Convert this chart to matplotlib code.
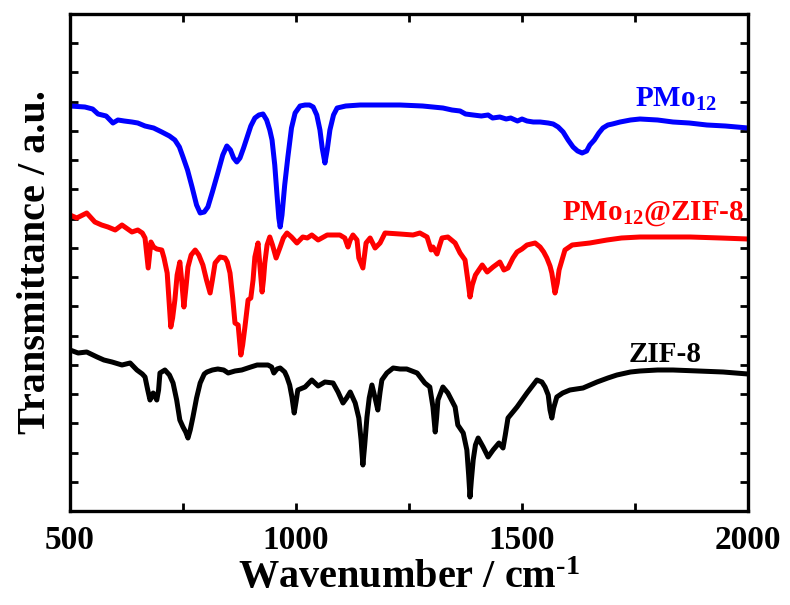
import matplotlib
matplotlib.use("Agg")
import matplotlib.pyplot as plt
import numpy as np

plt.rcParams['font.family'] = ['Liberation Serif', 'DejaVu Serif']
plt.rcParams['font.weight'] = 'bold'
plt.rcParams['mathtext.fontset'] = 'custom'
plt.rcParams['mathtext.rm'] = 'Liberation Serif:bold'
plt.rcParams['mathtext.bf'] = 'Liberation Serif:bold'
plt.rcParams['mathtext.it'] = 'Liberation Serif:bold'
plt.rcParams['mathtext.default'] = 'bf'

# Transmittance in arbitrary units (offset spectra)
pmo_wn = [500, 533, 550, 562, 580, 595, 606, 620, 637, 650, 666, 685, 703, 720, 732, 742, 750, 760, 770, 780,
          788, 797, 805, 815, 827, 838, 847, 855, 862, 869, 876, 884, 892, 900, 909, 918, 927, 935, 942, 947,
          953, 958, 962, 965, 969, 975, 982, 990, 998, 1009, 1020, 1030, 1038, 1046, 1053, 1058, 1064, 1069,
          1075, 1083, 1091, 1110, 1142, 1190, 1230, 1280, 1325, 1345, 1363, 1375, 1392, 1410, 1425, 1435,
          1451, 1465, 1475, 1490, 1500, 1511, 1525, 1540, 1558, 1569, 1580, 1591, 1602, 1613, 1623, 1633,
          1643, 1650, 1660, 1670, 1679, 1690, 1700, 1717, 1740, 1761, 1800, 1834, 1870, 1909, 1950, 2000]
pmo_py = [106, 107, 109, 114, 116, 123, 120, 121, 122, 123, 126, 128, 132, 136, 140, 147, 157, 170, 187, 205,
          213, 212, 207, 192, 173, 155, 146, 150, 158, 162, 158, 148, 137, 126, 118, 115, 114, 120, 130, 140,
          165, 195, 218, 227, 215, 185, 157, 128, 113, 106, 105, 105, 107, 115, 130, 148, 163, 150,
          130, 115, 108, 106, 105, 105, 105, 106, 108, 110, 111, 114, 115, 116, 115, 118,
          117, 119, 118, 121, 119, 121, 122, 122, 123, 124, 127, 132, 140, 147, 151, 153,
          151, 145, 140, 133, 128, 125, 124, 122, 120, 119, 120, 122, 123, 125, 126, 128]

pz_wn = [500, 515, 537, 555, 570, 584, 600, 615, 637, 650, 660, 666, 670, 673, 676, 679, 685, 692, 703, 708,
         715, 719, 723, 727, 732, 737, 743, 747, 752, 756, 761, 768, 777, 785, 794, 802, 810, 815, 821, 832,
         843, 848, 854, 860, 865, 872, 875, 878, 882, 887, 894, 900, 905, 909, 916, 920, 925, 928, 931, 936,
         942, 948, 956, 965, 972, 980, 990, 1002, 1015, 1025, 1035, 1049, 1069, 1097, 1108, 1115, 1120, 1126,
         1135, 1139, 1148, 1155, 1164, 1175, 1186, 1197, 1230, 1259, 1274, 1290, 1299, 1303, 1312, 1318,
         1323, 1336, 1352, 1363, 1374, 1381, 1385, 1390, 1397, 1412, 1423, 1436, 1451, 1460, 1469, 1480,
         1489, 1500, 1511, 1520, 1529, 1540, 1548, 1555, 1562, 1566, 1573, 1578, 1582, 1595, 1611, 1630,
         1650, 1688, 1720, 1761, 1820, 1872, 1940, 2000]
pz_py = [215, 218, 213, 222, 225, 227, 230, 225, 232, 230, 233, 238, 255, 268, 255, 242, 247, 249, 250, 258,
         273, 300, 327, 318, 300, 275, 262, 280, 307, 290, 267, 255, 250, 255, 265, 280, 293, 280, 263, 257,
         258, 262, 273, 298, 323, 325, 340, 355, 345, 327, 300, 298, 280, 257, 243, 265, 292, 280, 263, 245,
         237, 245, 258, 247, 238, 233, 237, 243, 237, 238, 235, 240, 235, 235, 238, 247, 240, 235,
         240, 258, 268, 243, 238, 248, 243, 233, 234, 235, 233, 237, 250, 247, 254, 245,
         238, 237, 243, 253, 260, 283, 297, 285, 275, 265, 272, 267, 262, 270, 268, 258,
         252, 249, 245, 244, 243, 247, 252, 258, 266, 273, 293, 283, 270, 250, 245, 244,
         243, 240, 238, 237, 237, 237, 238, 239]

zif_wn = [500, 518, 537, 560, 575, 593, 615, 633, 648, 660, 666, 672, 677, 684, 692, 696, 699, 710, 720, 728,
          736, 743, 750, 756, 761, 766, 772, 780, 788, 797, 803, 815, 827, 840, 850, 865, 880, 900, 914, 938,
          946, 951, 958, 965, 975, 980, 986, 991, 996, 1000, 1004, 1020, 1035, 1049, 1064, 1082, 1093, 1104,
          1112, 1120, 1131, 1139, 1144, 1148, 1152, 1157, 1162, 1168, 1175, 1181, 1186, 1190, 1201, 1215,
          1230, 1245, 1268, 1285, 1296, 1303, 1308, 1311, 1314, 1325, 1336, 1352, 1358, 1370, 1378, 1382,
          1385, 1388, 1392, 1397, 1403, 1414, 1425, 1436, 1449, 1458, 1463, 1469, 1489, 1511, 1533, 1544,
          1551, 1558, 1562, 1566, 1570, 1577, 1590, 1606, 1635, 1666, 1690, 1710, 1740, 1761, 1800, 1834,
          1890, 1945, 2000]
zif_py = [350, 353, 352, 357, 360, 362, 365, 363, 370, 374, 377, 390, 400, 393, 400, 390, 373, 370, 375, 383,
          400, 420, 427, 432, 438, 430, 417, 398, 383, 374, 372, 370, 369, 370, 373, 371, 370, 367, 365, 365,
          367, 373, 369, 368, 372, 377, 385, 397, 413, 402, 390, 387, 380, 386, 382, 383, 392, 403,
          398, 392, 403, 418, 440, 465, 445, 417, 398, 385, 398, 410, 392, 380, 373, 368,
          369, 369, 373, 383, 387, 407, 432, 418, 400, 387, 393, 407, 425, 433, 450, 475,
          497, 480, 460, 445, 438, 447, 457, 450, 443, 448, 435, 418, 407, 393, 380, 382,
          387, 395, 410, 418, 408, 397, 393, 390, 388, 382, 378, 375, 372, 371, 370, 370,
          371, 372, 374]

# convert image-row readings to a.u. (bottom of frame = 0)
def to_au(rows):
    return 511 - np.asarray(rows, dtype=float)

x_ticks = [500, 1000, 1500, 2000]
labels = [r'PMo$_{12}$', r'PMo$_{12}$@ZIF-8', 'ZIF-8']

fig = plt.figure(figsize=(7.9, 6.05), dpi=100)
ax = fig.add_axes([70/790, 1 - 511/605, 678/790, 497/605])

lw = 3.6
ax.plot(pmo_wn, to_au(pmo_py), color='#0000ff', lw=lw, solid_joinstyle='round')
ax.plot(pz_wn, to_au(pz_py), color='#ff0000', lw=lw, solid_joinstyle='round')
ax.plot(zif_wn, to_au(zif_py), color='#000000', lw=lw, solid_joinstyle='round')

ax.text(1750, 404, labels[0], color='#0000ff', fontsize=21, fontweight='bold', va='baseline', ha='left')
ax.text(1589, 291, labels[1], color='#ff0000', fontsize=21, fontweight='bold', va='baseline', ha='left')
ax.text(1735, 149, labels[2], color='#000000', fontsize=21, fontweight='bold', va='baseline', ha='left')

ax.set_xlim(500, 2000)
ax.set_ylim(0, 497)
ax.set_xticks(x_ticks)
ax.set_xticks([750, 1250, 1750], minor=True)
ax.set_yticks(np.linspace(0, 497, 18))
ax.set_yticklabels([])
ax.tick_params(axis='both', which='both', direction='in', top=True, right=True, width=2, length=6)
ax.tick_params(axis='x', which='major', labelsize=24, pad=10)
for lab in ax.get_xticklabels():
    lab.set_fontweight('bold')
for s in ax.spines.values():
    s.set_linewidth(2.4)

ax.set_xlabel('Wavenumber / cm$^{\\text{-}1}$', fontsize=29, fontweight='bold', labelpad=3)
ax.set_ylabel('Transmittance / a.u.', fontsize=29, fontweight='bold', labelpad=8)

fig.savefig('out.png', dpi=100)
